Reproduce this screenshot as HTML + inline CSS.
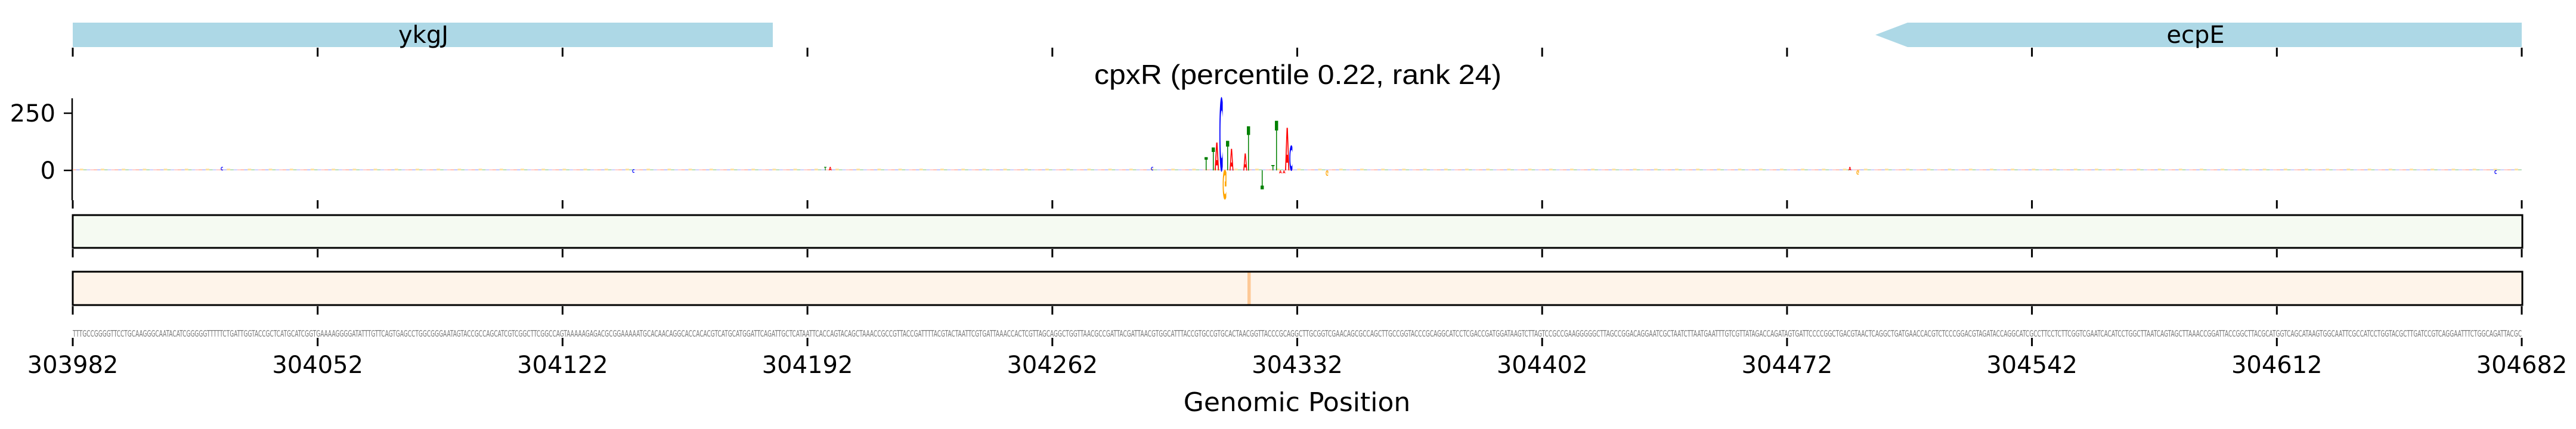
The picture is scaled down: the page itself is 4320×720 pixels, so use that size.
<!DOCTYPE html>
<html><head><meta charset="utf-8"><style>
html,body{margin:0;padding:0;background:#fff;}
svg{display:block;}
text{font-family:"DejaVu Sans","Liberation Sans",sans-serif;}
</style></head><body>
<svg width="4320" height="720" viewBox="0 0 4320 720" xmlns="http://www.w3.org/2000/svg">
<defs>
<pattern id="noise" x="122" y="0" width="35.2" height="6" patternUnits="userSpaceOnUse">
<rect x="0" y="2" width="5.9" height="2" fill="#ffb3a0"/>
<rect x="5.9" y="2" width="5.9" height="2" fill="#b0b8ff"/>
<rect x="11.8" y="1" width="5.9" height="3" fill="#ffd98a"/>
<rect x="17.7" y="2" width="5.9" height="2" fill="#a8d8a8"/>
<rect x="23.6" y="2" width="5.9" height="2" fill="#c0c6ff"/>
<rect x="29.5" y="2" width="5.7" height="2" fill="#ffc0c0"/>
</pattern>
</defs>
<!-- gene track -->
<rect x="122" y="38" width="1174" height="41" fill="#add8e6"/>
<text x="710" y="72" font-size="40" text-anchor="middle">ykgJ</text>
<polygon points="3145,58.5 3199,38 4229,38 4229,79 3199,79" fill="#add8e6"/>
<text x="3682" y="72" font-size="40" text-anchor="middle">ecpE</text>
<!-- title -->
<text x="1835" y="141" font-size="46" textLength="683" lengthAdjust="spacingAndGlyphs" style="font-family:'Liberation Sans',sans-serif">cpxR (percentile 0.22, rank 24)</text>
<!-- y axis -->
<line x1="121" y1="165" x2="121" y2="336" stroke="#000" stroke-width="2.5"/>
<line x1="107" y1="190" x2="121" y2="190" stroke="#000" stroke-width="2.5"/>
<line x1="107" y1="286" x2="121" y2="286" stroke="#000" stroke-width="2.5"/>
<text x="93" y="204" font-size="40" text-anchor="end">250</text>
<text x="93" y="300" font-size="40" text-anchor="end">0</text>
<!-- noise baseline -->
<rect x="122" y="282" width="4107" height="6" fill="url(#noise)" opacity="0.8"/>
<g font-family="Liberation Sans,sans-serif" font-weight="bold" font-size="10">
<text transform="translate(2020,286) scale(0.8,3)" fill="#008000">T</text>
<text transform="translate(2032,286) scale(0.8,5.3)" fill="#008000">T</text>
<text transform="translate(2037,286) scale(0.95,6.4)" fill="#ff0000">A</text>
<text transform="translate(2044.5,286) scale(0.9,16.6)" fill="#0000ff">C</text>
<text transform="translate(2050,286) scale(0.9,-6.6)" fill="#ffa500">G</text>
<text transform="translate(2056,286) scale(0.8,6.8)" fill="#008000">T</text>
<text transform="translate(2062,286) scale(0.85,5)" fill="#ff0000">A</text>
<text transform="translate(2085,286) scale(0.85,3.9)" fill="#ff0000">A</text>
<text transform="translate(2091,286) scale(0.8,10.2)" fill="#008000">T</text>
<text transform="translate(2114,286) scale(0.8,-4.4)" fill="#008000">T</text>
<text transform="translate(2132,286) scale(0.8,1.2)" fill="#008000">T</text>
<text transform="translate(2138,286) scale(0.8,11.4)" fill="#008000">T</text>
<text transform="translate(2155,286) scale(0.95,9.8)" fill="#ff0000">A</text>
<text transform="translate(2162,286) scale(0.8,5.7)" fill="#0000ff">C</text>
<text transform="translate(2145,291) scale(0.6,0.7)" fill="#ff0000">A</text>
<text transform="translate(2151,291) scale(0.6,0.7)" fill="#ff0000">A</text>
<text transform="translate(2223,286) scale(0.6,-1.2)" fill="#ffa500">G</text>
<text transform="translate(1930,286) scale(0.6,0.8)" fill="#0000ff">C</text>
<text transform="translate(1382,286) scale(0.6,0.8)" fill="#008000">T</text>
<text transform="translate(1390,286) scale(0.6,0.8)" fill="#ff0000">A</text>
<text transform="translate(370,286) scale(0.6,0.8)" fill="#0000ff">C</text>
<text transform="translate(1060,290) scale(0.6,0.8)" fill="#0000ff">C</text>
<text transform="translate(3100,286) scale(0.6,0.8)" fill="#ff0000">A</text>
<text transform="translate(3113,286) scale(0.6,-1)" fill="#ffa500">G</text>
<text transform="translate(4183,292) scale(0.6,0.9)" fill="#0000ff">C</text>
</g>
<!-- green box -->
<rect x="122" y="361" width="4108" height="55" fill="#f5faf2" stroke="#000" stroke-width="3"/>
<!-- orange box -->
<rect x="122" y="456" width="4108" height="56" fill="#fef4ea" stroke="#000" stroke-width="3"/>
<rect x="2092" y="457.5" width="5.5" height="53" fill="#fdc896"/>
<!-- sequence -->
<text x="122" y="565" font-size="15" fill="#777" textLength="4107" lengthAdjust="spacingAndGlyphs" font-family="Liberation Sans Narrow,Liberation Sans,sans-serif">TTTGCCGGGGTTCCTGCAAGGGCAATACATCGGGGGTTTTTCTGATTGGTACCGCTCATGCATCGGTGAAAAGGGGATATTTGTTCAGTGAGCCTGGCGGGAATAGTACCGCCAGCATCGTCGGCTTCGGCCAGTAAAAAGAGACGCGGAAAAATGCACAACAGGCACCACACGTCATGCATGGATTCAGATTGCTCATAATTCACCAGTACAGCTAAACCGCCGTTACCGATTTTACGTACTAATTCGTGATTAAACCACTCGTTAGCAGGCTGGTTAACGCCGATTACGATTAACGTGGCATTTACCGTGCCGTGCACTAACGGTTACCCGCAGGCTTGCGGTCGAACAGCGCCAGCTTGCCGGTACCCGCAGGCATCCTCGACCGATGGATAAGTCTTAGTCCGCCGAAGGGGGCTTAGCCGGACAGGAATCGCTAATCTTAATGAATTTGTCGTTATAGACCAGATAGTGATTCCCCGGCTGACGTAACTCAGGCTGATGAACCACGTCTCCCGGACGTAGATACCAGGCATCGCCTTCCTCTTCGGTCGAATCACATCCTGGCTTAATCAGTAGCTTAAACCGGATTACCGGCTTACGCATGGTCAGCATAAGTGGCAATTCGCCATCCTGGTACGCTTGATCCGTCAGGAATTTCTGGCAGATTACGC</text>
<!-- ticks -->
<g stroke="#000" stroke-width="3">
<path d="M122,80v15M532.7,80v15M943.4,80v15M1354.1,80v15M1764.8,80v15M2175.5,80v15M2586.2,80v15M2996.9,80v15M3407.6,80v15M3818.3,80v15M4229,80v15"/>
<path d="M122,336v14M532.7,336v14M943.4,336v14M1354.1,336v14M1764.8,336v14M2175.5,336v14M2586.2,336v14M2996.9,336v14M3407.6,336v14M3818.3,336v14M4229,336v14"/>
<path d="M122,418v14M532.7,418v14M943.4,418v14M1354.1,418v14M1764.8,418v14M2175.5,418v14M2586.2,418v14M2996.9,418v14M3407.6,418v14M3818.3,418v14M4229,418v14"/>
<path d="M122,514v14M532.7,514v14M943.4,514v14M1354.1,514v14M1764.8,514v14M2175.5,514v14M2586.2,514v14M2996.9,514v14M3407.6,514v14M3818.3,514v14M4229,514v14"/>
<path d="M122,567v14M532.7,567v14M943.4,567v14M1354.1,567v14M1764.8,567v14M2175.5,567v14M2586.2,567v14M2996.9,567v14M3407.6,567v14M3818.3,567v14M4229,567v14"/>
</g>
<g font-size="40" text-anchor="middle">
<text x="122" y="626">303982</text>
<text x="532.7" y="626">304052</text>
<text x="943.4" y="626">304122</text>
<text x="1354.1" y="626">304192</text>
<text x="1764.8" y="626">304262</text>
<text x="2175.5" y="626">304332</text>
<text x="2586.2" y="626">304402</text>
<text x="2996.9" y="626">304472</text>
<text x="3407.6" y="626">304542</text>
<text x="3818.3" y="626">304612</text>
<text x="4229" y="626">304682</text>
</g>
<text x="2175" y="690" font-size="44" text-anchor="middle">Genomic Position</text>
</svg>
</body></html>
